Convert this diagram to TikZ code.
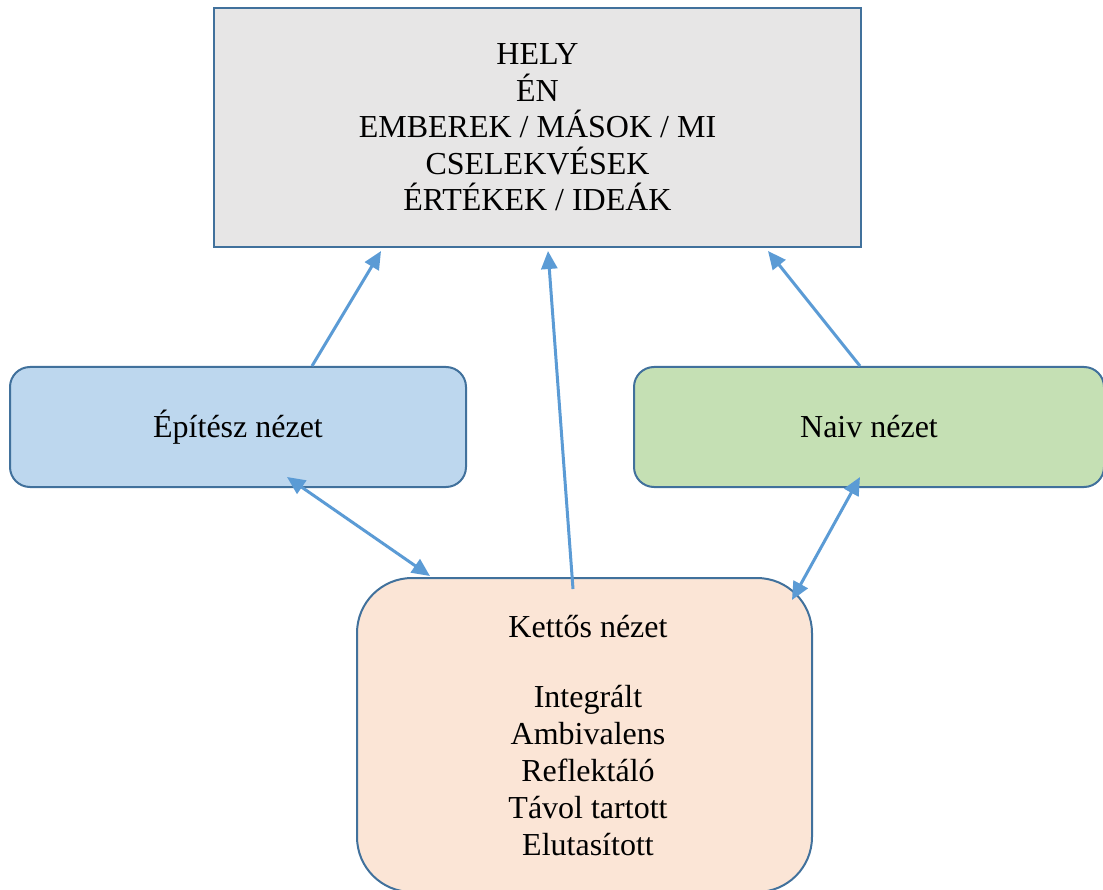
\documentclass[tikz,border=0pt]{standalone}
\usepackage{fontspec}
\setmainfont{Liberation Serif}
\usetikzlibrary{arrows.meta}
\definecolor{bordc}{HTML}{41719C}
\definecolor{arrc}{HTML}{5B9BD5}
\definecolor{topfill}{HTML}{E7E6E6}
\definecolor{bluefill}{HTML}{BDD7EE}
\definecolor{greenfill}{HTML}{C5E0B4}
\definecolor{peachfill}{HTML}{FBE5D6}
\tikzset{
  box/.style={draw=bordc, line width=2pt, inner sep=0pt, align=center,
    font=\fontsize{32}{36.5}\selectfont},
  txt/.style={inner sep=0pt, align=center, font=\fontsize{32}{37}\selectfont},
  conn/.style={draw=arrc, line width=3pt, -{Triangle[length=18pt,width=16pt]}},
  dconn/.style={draw=arrc, line width=3pt, {Triangle[length=18pt,width=16pt]}-{Triangle[length=18pt,width=16pt]}}
}
\begin{document}
\begin{tikzpicture}[x=1pt,y=-1pt]
\useasboundingbox (0,0) rectangle (1103,890);
\clip (0,0) rectangle (1103,890);
\node[box, fill=topfill, minimum width=647pt, minimum height=239pt] (top) at (537.5,127.5)
  {HELY\\ÉN\\EMBEREK / MÁSOK / MI\\CSELEKVÉSEK\\ÉRTÉKEK / IDEÁK};
\node[box, fill=bluefill, rounded corners=20pt, minimum width=456pt, minimum height=120pt] (ep) at (238,427) {Építész nézet};
\node[box, fill=greenfill, rounded corners=20pt, minimum width=470pt, minimum height=120pt] (nv) at (869,427) {Naiv nézet};
\node[box, fill=peachfill, rounded corners=55pt, minimum width=455pt, minimum height=314pt] (kn) at (584.5,735) {};
\node[txt, anchor=north] (kt) at (588,615) {Kettős nézet\\[33pt]Integrált\\Ambivalens\\Reflektáló\\Távol tartott\\Elutasított};
\draw[conn] ([xshift=74pt]ep.north) -- ([xshift=-156.5pt,yshift=-3pt]top.south);
\draw[conn] ([xshift=-11.5pt,yshift=-12pt]kn.north) -- ([xshift=10.5pt,yshift=-3pt]top.south);
\draw[conn] ([xshift=-9pt]nv.north) -- ([xshift=230.5pt,yshift=-3pt]top.south);
\draw[dconn] ([xshift=49pt,yshift=11pt]ep.south) -- ([xshift=-154.5pt,yshift=1pt]kn.north);
\draw[dconn] ([xshift=-9pt,yshift=11pt]nv.south) -- ([xshift=207.5pt,yshift=-23pt]kn.north);
\end{tikzpicture}
\end{document}
